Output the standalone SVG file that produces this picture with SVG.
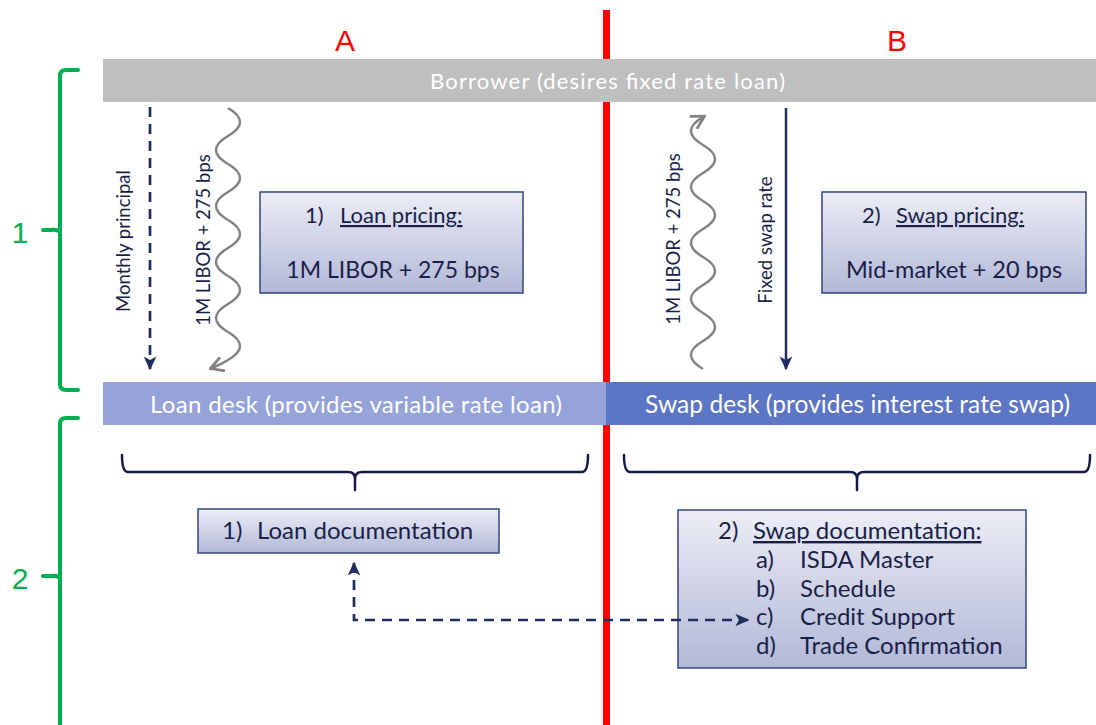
<svg xmlns="http://www.w3.org/2000/svg" width="1096" height="725" viewBox="0 0 1096 725">
<defs>
<linearGradient id="boxg" x1="0" y1="0" x2="0" y2="1">
<stop offset="0" stop-color="#ecedf6"/>
<stop offset="1" stop-color="#b2b8d7"/>
</linearGradient>
<marker id="ah-navy" markerUnits="userSpaceOnUse" markerWidth="14" markerHeight="14" viewBox="0 0 10 10" refX="9" refY="5" orient="auto-start-reverse">
<path d="M0,0.5 L10,5 L0,9.5 L2.5,5 Z" fill="#1f2d5f"/>
</marker>
<marker id="ah-gray" markerUnits="userSpaceOnUse" markerWidth="16" markerHeight="16" viewBox="0 0 10 10" refX="8" refY="5" orient="auto">
<path d="M1,0.5 L9,5 L1,9.5" fill="none" stroke="#828282" stroke-width="1.8"/>
</marker>
<style>
.t{font-family:"Lato","Open Sans","Liberation Sans",sans-serif;fill:#1a1f4a}
.w{font-family:"Lato","Open Sans","Liberation Sans",sans-serif;fill:#ffffff}
.box{fill:url(#boxg);stroke:#34457f;stroke-width:1.5}
.green{fill:none;stroke:#00b050;stroke-width:4;stroke-linecap:round}
.brace{fill:none;stroke:#141a4a;stroke-width:2.5;stroke-linecap:round}
.dash{fill:none;stroke:#1f2d5f;stroke-width:2.7;stroke-dasharray:10,7}
.wave{fill:none;stroke:#828282;stroke-width:2.5}
.gl{font-family:"Liberation Sans","Arial",sans-serif;fill:#00b050;font-size:30px}
.rl{font-family:"Liberation Sans","Arial",sans-serif;fill:#ff0000;font-size:30px}
</style>
</defs>
<rect width="1096" height="725" fill="#ffffff"/>

<!-- red divider -->
<rect x="603" y="10" width="7" height="715" fill="#ff0000"/>
<text class="rl" x="345" y="51" text-anchor="middle">A</text>
<text class="rl" x="897" y="51" text-anchor="middle">B</text>

<!-- green braces -->
<g id="brace1">
<path class="green" d="M78 70 H66 Q60 70 60 76 V384 Q60 390 66 390 H78"/>
<path class="green" d="M60 232 Q57 229 51 230 H43"/>
<text class="gl" x="20" y="243" text-anchor="middle">1</text>
</g>
<g id="brace2">
<path class="green" d="M78 418 H66 Q60 418 60 424 V725"/>
<path class="green" d="M60 578 Q57 575 51 576 H43"/>
<text class="gl" x="20" y="589" text-anchor="middle">2</text>
</g>

<!-- borrower bar -->
<g id="borrower">
<rect x="103" y="59" width="993" height="43" fill="#bfbfbf"/>
<text class="w" x="430" y="89" font-size="22" textLength="355" lengthAdjust="spacing">Borrower (desires fixed rate loan)</text>
</g>

<!-- desk bars -->
<g id="loan-desk">
<rect x="103" y="382" width="503" height="43" fill="#95a3d8"/>
<text class="w" x="150" y="413" font-size="24" textLength="412" lengthAdjust="spacing">Loan desk (provides variable rate loan)</text>
</g>
<g id="swap-desk">
<rect x="606" y="382" width="490" height="43" fill="#5c76c5"/>
<text class="w" x="645" y="413" font-size="24.5" textLength="425" lengthAdjust="spacing">Swap desk (provides interest rate swap)</text>
</g>

<!-- pricing boxes -->
<g id="loan-pricing">
<rect class="box" x="260" y="192" width="263" height="101"/>
<text class="t" x="305" y="223" font-size="22">1)</text>
<text class="t" x="340" y="223" font-size="22" text-decoration="underline">Loan pricing:</text>
<text class="t" x="393" y="278" text-anchor="middle" font-size="23">1M LIBOR + 275 bps</text>
</g>
<g id="swap-pricing">
<rect class="box" x="822" y="192" width="264" height="101"/>
<text class="t" x="862" y="223" font-size="22">2)</text>
<text class="t" x="896" y="223" font-size="22" text-decoration="underline">Swap pricing:</text>
<text class="t" x="954" y="278" text-anchor="middle" font-size="23.5">Mid-market + 20 bps</text>
</g>

<!-- doc boxes -->
<g id="loan-doc">
<rect class="box" x="198" y="509" width="301" height="44"/>
<text class="t" x="222" y="539" font-size="24">1)</text>
<text class="t" x="257" y="539" font-size="24">Loan documentation</text>
</g>
<g id="swap-doc">
<rect class="box" x="678" y="510" width="348" height="158"/>
<text class="t" x="718" y="539" font-size="24">2)</text>
<text class="t" x="753" y="539" font-size="24" text-decoration="underline">Swap documentation:</text>
<text class="t" x="756" y="568" font-size="24">a)</text><text class="t" x="800" y="568" font-size="24">ISDA Master</text>
<text class="t" x="756" y="597" font-size="24">b)</text><text class="t" x="800" y="597" font-size="24">Schedule</text>
<text class="t" x="756" y="625" font-size="24">c)</text><text class="t" x="800" y="625" font-size="24">Credit Support</text>
<text class="t" x="756" y="654" font-size="24">d)</text><text class="t" x="800" y="654" font-size="24">Trade Confirmation</text>
</g>

<!-- labels on flows -->
<g id="flow-labels">
<text class="t" font-size="18.5" text-anchor="middle" transform="translate(130,241) rotate(-90)">Monthly principal</text>
<text class="t" font-size="18.5" text-anchor="middle" transform="translate(210,240) rotate(-90)">1M LIBOR + 275 bps</text>
<text class="t" font-size="18.5" text-anchor="middle" transform="translate(680,239) rotate(-90)">1M LIBOR + 275 bps</text>
<text class="t" font-size="18.5" text-anchor="middle" transform="translate(772,240) rotate(-90)">Fixed swap rate</text>
</g>

<!-- connectors -->
<g id="connectors">
<path class="dash" d="M150 107 V369" marker-end="url(#ah-navy)"/>
<path class="wave" d="M228 108 Q252 122 228 136 T228 164 T228 192 T228 220 T228 248 T228 276 T228 304 T228 332 T228 360 Q220 365 212 368" marker-end="url(#ah-gray)"/>
<path class="wave" d="M703 369 Q679 355 703 341 T703 313 T703 285 T703 257 T703 229 T703 201 T703 173 T703 145 T703 117" marker-end="url(#ah-gray)"/>
<path d="M786 108 V369" fill="none" stroke="#1f2d5f" stroke-width="2.5" marker-end="url(#ah-navy)"/>
<path class="brace" d="M122 455 Q122 472 128 472 H348 Q355 472 355 479 V490 M355 479 Q355 472 362 472 H582 Q588 472 588 455"/>
<path class="brace" d="M624 455 Q624 472 630 472 H850 Q857 472 857 479 V490 M857 479 Q857 472 864 472 H1084 Q1090 472 1090 455"/>
<path class="dash" d="M354 563 V620 H748" marker-start="url(#ah-navy)" marker-end="url(#ah-navy)"/>
</g>
</svg>
